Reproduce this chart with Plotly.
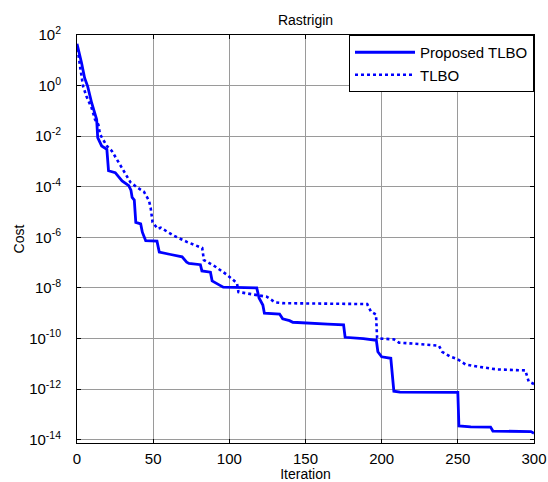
import plotly.graph_objects as go

# Proposed TLBO (solid) — iteration and cost
prop_iter = [0, 1, 3, 5, 7, 9.6, 11.8, 12.9, 13.6, 16.2, 19.6, 20.7, 25.1, 29.6, 34, 35.4,
             36.2, 37.6, 38.6, 41.8, 42.9, 45.1, 52.5, 54, 61.5, 69, 72, 73.5, 81, 82,
             87.6, 88.7, 93, 96, 118, 119.5, 122, 123, 133, 135, 139.5, 141.7, 164.6, 175,
             176, 188, 196.5, 197.5, 200, 206, 208, 212, 250, 250.7, 258.5, 271.5, 273,
             298, 300]
prop_cost = [4.5e1, 2.6e1, 7.8e0, 2.0e0, 9.3e-1, 2.1e-1, 8.3e-2, 4.6e-2, 8.7e-3, 4.1e-3,
             3.0e-3, 4.3e-4, 3.6e-4, 1.7e-4, 1.1e-4, 7.4e-5, 3.8e-5, 3.0e-5, 3.9e-6, 3.4e-6,
             1.6e-6, 7.4e-7, 7.1e-7, 2.6e-7, 2.1e-7, 1.7e-7, 1.05e-7, 9.3e-8, 8.3e-8, 4.7e-8,
             4.2e-8, 1.9e-8, 1.35e-8, 1.07e-8, 1.0e-8, 4.0e-9, 2.1e-9, 1.0e-9, 9.3e-10, 6.0e-10,
             5.1e-10, 4.4e-10, 3.7e-10, 3.5e-10, 1.12e-10, 1.0e-10, 8.5e-11, 3.0e-11, 1.9e-11,
             1.66e-11, 8.3e-13, 7.6e-13, 7.4e-13, 3.5e-14, 3.2e-14, 3.15e-14, 2.2e-14, 2.1e-14,
             1.8e-14]

# TLBO (dotted)
tlbo_iter = [0, 1, 2, 4, 6.2, 9.6, 11.8, 14, 15.1, 17.3, 19.6, 22.9, 27.3, 31.8, 35.1, 39.6,
             44, 47.3, 48.4, 49.6, 52.9, 55, 63.7, 72.4, 82.2, 83.3, 90.9, 98.5, 105, 106,
             118, 124.5, 127, 130, 135, 190.5, 193, 196.3, 197, 198.5, 208, 211.4, 225.5,
             237.6, 239.7, 245.2, 249.6, 255, 262.7, 275.8, 294.3, 296.5, 300]
tlbo_cost = [2.8e1, 1.6e1, 5.8e0, 9.3e-1, 3.8e-1, 1.3e-1, 4.6e-2, 2.9e-2, 1.2e-2, 7.4e-3,
             4.1e-3, 2.6e-3, 9.1e-4, 3.2e-4, 1.5e-4, 9.3e-5, 6.3e-5, 2.8e-5, 1.4e-5, 4.0e-6,
             2.2e-6, 2.4e-6, 1.15e-6, 6.5e-7, 3.8e-7, 1.26e-7, 6.9e-8, 3.3e-8, 1.55e-8, 6.9e-9,
             5.1e-9, 4.5e-9, 3.6e-9, 2.7e-9, 2.5e-9, 2.3e-9, 1.15e-9, 8.9e-10, 1.07e-10, 1.0e-10,
             9.3e-11, 6.9e-11, 6.0e-11, 5.2e-11, 3.0e-11, 1.9e-11, 1.55e-11, 9.5e-12, 7.8e-12,
             6.0e-12, 5.5e-12, 2.0e-12, 1.6e-12]

ytick_vals = [1e2, 1e0, 1e-2, 1e-4, 1e-6, 1e-8, 1e-10, 1e-12, 1e-14]
ytick_text = ["10<sup>2</sup>", "10<sup>0</sup>", "10<sup>-2</sup>", "10<sup>-4</sup>",
              "10<sup>-6</sup>", "10<sup>-8</sup>", "10<sup>-10</sup>", "10<sup>-12</sup>",
              "10<sup>-14</sup>"]
xtick_vals = [0, 50, 100, 150, 200, 250, 300]

FONT = "Liberation Sans, Arial, sans-serif"

fig = go.Figure()
fig.add_trace(go.Scatter(x=prop_iter, y=prop_cost, mode="lines", name="Proposed TLBO",
                         line=dict(color="#0000ff", width=2.8)))
fig.add_trace(go.Scatter(x=tlbo_iter, y=tlbo_cost, mode="lines", name="TLBO",
                         line=dict(color="#0000ff", width=2.6, dash="dot")))

axis_common = dict(showline=True, linecolor="black", linewidth=1, mirror="ticks",
                   ticks="inside", ticklen=4, tickcolor="black", automargin=False,
                   showgrid=True, gridcolor="#9a9a9a", gridwidth=1,
                   zeroline=False, tickfont=dict(family=FONT, size=15, color="black"))

fig.update_layout(
    width=548, height=482,
    margin=dict(l=77, r=14, t=35, b=39),
    paper_bgcolor="white", plot_bgcolor="white",
    title=dict(text="Rastrigin", x=0.5, xref="paper", y=1, yref="paper", yanchor="bottom",
               pad=dict(b=10), font=dict(family=FONT, size=14, color="black")),
    xaxis=dict(range=[0, 300], tickvals=xtick_vals, ticklabelstandoff=2,
               title=dict(text="Iteration", standoff=0, font=dict(family=FONT, size=14, color="black")),
               **axis_common),
    yaxis=dict(type="log", range=[-14.13, 2], tickvals=ytick_vals, ticktext=ytick_text,
               ticklabelstandoff=12,
               title=dict(text="Cost", standoff=1, font=dict(family=FONT, size=14, color="black")),
               **axis_common),
    legend=dict(x=1, xanchor="right", y=1, yanchor="top", bgcolor="white",
                bordercolor="black", borderwidth=1, itemwidth=60,
                font=dict(family=FONT, size=15, color="black"),
                tracegroupgap=0),
    showlegend=True,
)

fig.write_html("out.html", config={"displayModeBar": False},
               post_script="document.body.style.margin='0';document.body.style.overflow='hidden';")
